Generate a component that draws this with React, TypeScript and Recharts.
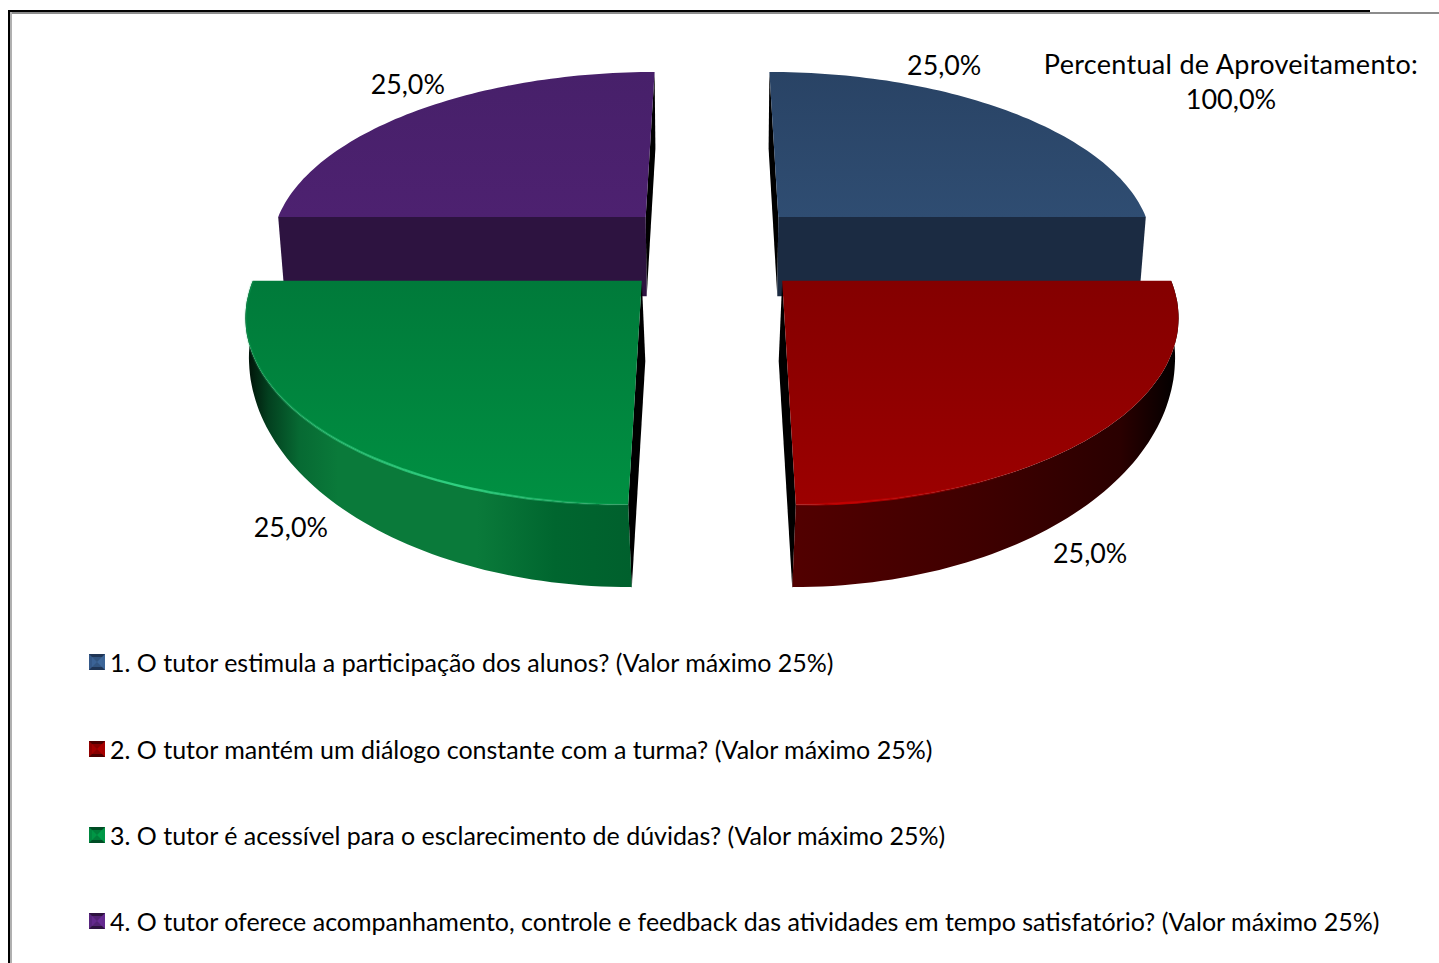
import React from 'react';
import { PieChart, Pie, Legend } from 'recharts';

const categories = [
  '1. O tutor estimula a participação dos alunos? (Valor máximo 25%)',
  '2. O tutor mantém um diálogo constante com a turma? (Valor máximo 25%)',
  '3. O tutor é acessível para o esclarecimento de dúvidas? (Valor máximo 25%)',
  '4. O tutor oferece acompanhamento, controle e feedback das atividades em tempo satisfatório? (Valor máximo 25%)',
];
const values = [25, 25, 25, 25];
const sliceLabels = ['25,0%', '25,0%', '25,0%', '25,0%'];
const summaryLines = ['Percentual de Aproveitamento:', '100,0%'];

const FONT = 'Lato, "Open Sans", sans-serif';
const W = 1439;
const H = 963;
const CX = 712;
const CY = 248;
const R = 378;

// perspective of the tilted disc
const EXPLODE = 0.255;
const TILT = 0.468;
const PERSP = 0.158;

// colours per slice
const themes = [
  {
    top0: '#294365',
    top1: '#2f4d72',
    cut: '#1b2b42',
    wall: [[0, '#1b2b42'], [1, '#1b2b42']],
    rim: null,
    icon: ['#3f6a9f', '#1f3555'],
  },
  {
    top0: '#840000',
    top1: '#9c0000',
    cut: '#3a0000',
    wall: [[0, '#520000'], [0.5, '#3e0000'], [0.85, '#2a0000'], [1, '#000000']],
    rim: { color: '#c00000', peak: 0.12, end: 0.6 },
    icon: ['#b00000', '#4c0000'],
  },
  {
    top0: '#007a3a',
    top1: '#009042',
    cut: '#004d25',
    wall: [[0, '#000d05'], [0.06, '#03401f'], [0.14, '#076a33'], [0.24, '#0a7a3a'], [0.6, '#0a7a3a'], [0.8, '#00662f'], [1, '#00602d']],
    rim: { color: '#2fd080', peak: 0.55, end: 1 },
    icon: ['#00a04a', '#004d25'],
  },
  {
    top0: '#47206a',
    top1: '#4d2170',
    cut: '#2d1340',
    wall: [[0, '#2d1340'], [1, '#2d1340']],
    rim: null,
    icon: ['#6a2d98', '#2d1340'],
  },
];

// nudge from the rim point of each slice to where its label sits
const labelShift = [
  [-62, -45],
  [-12, 122],
  [-31, 96],
  [-10, -26],
];

// drawn back to front, so the pie starts at the purple slice
const pieData = [3, 0, 1, 2].map((i) => ({
  name: categories[i],
  value: values[i],
  order: i,
  fill: themes[i].top1,
}));

const rad = (a: number) => (a * Math.PI) / 180;

function project(u: number, v: number) {
  const s = 1 / (1 + (PERSP * v) / R);
  return [CX + u * s, CY - TILT * v * s];
}

// bottom edge of a cut face
function lowerCut(p: number[], back: boolean) {
  const x = back ? CX + (p[0] - CX) * 0.985 : p[0] - Math.sign(p[0] - CX) * 3.5;
  return [x, p[1] * 1.017 + 75.5];
}

// bottom edge of the round wall on the front slices
function lowerRim(p: number[]) {
  return [p[0] - Math.sign(p[0] - CX) * 3.5, p[1] * 1.23 - 33.6];
}

const line = (pts: number[][]) => 'M' + pts.map((p) => p[0].toFixed(1) + ',' + p[1].toFixed(1)).join('L');
const toPath = (pts: number[][]) => line(pts) + 'Z';

function Slice3D(props: any) {
  const order = props.order ?? props.payload?.order ?? 0;
  const t = themes[order];
  const { startAngle, endAngle, outerRadius } = props;
  const mid = (startAngle + endAngle) / 2;
  const ox = EXPLODE * R * Math.cos(rad(mid));
  const oy = EXPLODE * R * Math.sin(rad(mid));
  const apex = project(ox, oy);
  const arc: number[][] = [];
  const steps = 72;
  for (let i = 0; i <= steps; i++) {
    const a = rad(startAngle + ((endAngle - startAngle) * i) / steps);
    arc.push(project(ox + outerRadius * Math.cos(a), oy + outerRadius * Math.sin(a)));
  }
  const first = arc[0];
  const last = arc[arc.length - 1];
  const back = oy > 0;
  const wall = [...arc, ...arc.map(lowerRim).reverse()];
  const sideH = Math.abs(Math.sin(rad(startAngle))) < 0.01 ? first : last;
  const sideV = sideH === first ? last : first;
  const id = 'slice' + order;
  return (
    <g>
      <defs>
        <linearGradient id={id + 'top'} x1="0" y1="0" x2="0" y2="1">
          <stop offset="0" stopColor={t.top0} />
          <stop offset="1" stopColor={t.top1} />
        </linearGradient>
        <linearGradient id={id + 'wall'} x1="0" y1="0" x2="1" y2="0">
          {t.wall.map((s: any) => (
            <stop key={s[0]} offset={s[0]} stopColor={s[1]} />
          ))}
        </linearGradient>
        {t.rim && (
          <linearGradient id={id + 'rim'} x1="0" y1="0" x2="1" y2="0">
            <stop offset="0" stopColor={t.rim.color} stopOpacity={0.15} />
            <stop offset={t.rim.peak} stopColor={t.rim.color} stopOpacity={1} />
            <stop offset={t.rim.end} stopColor={t.rim.color} stopOpacity={0} />
          </linearGradient>
        )}
      </defs>
      <path d={toPath([apex, sideV, lowerCut(sideV, back), lowerCut(apex, back)])} fill="#000" />
      {back && <path d={toPath([apex, sideH, lowerCut(sideH, back), lowerCut(apex, back)])} fill={t.cut} />}
      {!back && <path d={toPath(wall)} fill={`url(#${id}wall)`} />}
      <path d={toPath([apex, ...arc])} fill={`url(#${id}top)`} />
      {t.rim && <path d={line(arc)} fill="none" stroke={`url(#${id}rim)`} strokeWidth={2.5} />}
    </g>
  );
}

function SliceLabel(props: any) {
  const order = props.order ?? props.payload?.order ?? 0;
  const m = rad(props.midAngle);
  const ox = (EXPLODE * R + props.outerRadius) * Math.cos(m);
  const oy = (EXPLODE * R + props.outerRadius) * Math.sin(m);
  const p = project(ox, oy);
  return (
    <text
      x={p[0] + labelShift[order][0]}
      y={p[1] + labelShift[order][1]}
      textAnchor="middle"
      dominantBaseline="central"
      fontFamily={FONT}
      fontSize={26.8}
      fill="#000"
    >
      {sliceLabels[order]}
    </text>
  );
}

function BevelIcon({ colors }: { colors: string[] }) {
  return (
    <svg width={16} height={16} style={{ marginRight: 5, flex: 'none' }}>
      <rect x={0} y={0} width={16} height={16} fill={colors[1]} />
      <path d="M0,0L16,0L8,8Z" fill={colors[1]} opacity={0.6} />
      <path d="M0,0L0,16L8,8Z" fill={colors[0]} opacity={0.7} />
      <path d="M16,0L16,16L8,8Z" fill={colors[0]} opacity={0.9} />
      <rect x={3} y={3} width={10} height={10} fill={colors[0]} opacity={0.6} />
    </svg>
  );
}

function LegendRows() {
  return (
    <div style={{ position: 'absolute', left: 89, top: 619, width: 1340 }}>
      {categories.map((c, i) => (
        <div
          key={c}
          style={{
            display: 'flex',
            alignItems: 'center',
            height: 86.4,
            fontFamily: FONT,
            fontSize: 25,
            color: '#000',
            whiteSpace: 'nowrap',
          }}
        >
          <BevelIcon colors={themes[i].icon} />
          <span>{c}</span>
        </div>
      ))}
    </div>
  );
}

export default function App() {
  return (
    <div style={{ position: 'absolute', left: 0, top: 0, width: W, height: H, background: '#fff', overflow: 'hidden' }}>
      <div style={{ position: 'absolute', left: 8, top: 12, width: W - 8, height: 2, background: '#8c8c8c' }} />
      <div style={{ position: 'absolute', left: 10, top: 12, width: 2, height: H, background: '#b0b0b0' }} />
      <div style={{ position: 'absolute', left: 8, top: 10, width: 1362, height: 2, background: '#000' }} />
      <div style={{ position: 'absolute', left: 8, top: 10, width: 2, height: H, background: '#000' }} />
      <div style={{ position: 'absolute', left: 0, top: 0 }}>
        <PieChart width={W} height={H}>
          <Pie
            data={pieData}
            dataKey="value"
            nameKey="name"
            cx={CX}
            cy={CY}
            outerRadius={R}
            startAngle={180}
            endAngle={-180}
            stroke="none"
            shape={Slice3D}
            label={SliceLabel}
            labelLine={false}
            isAnimationActive={false}
          />
          <Legend content={() => <LegendRows />} wrapperStyle={{ left: 0, top: 0 }} />
        </PieChart>
      </div>
      <div
        style={{
          position: 'absolute',
          left: 1000,
          top: 46,
          width: 462,
          textAlign: 'center',
          fontFamily: FONT,
          fontSize: 27,
          lineHeight: '35px',
          color: '#000',
        }}
      >
        {summaryLines.map((l, i) => (
          <div key={l} style={{ letterSpacing: i === 0 ? 0.3 : 0 }}>
            {l}
          </div>
        ))}
      </div>
    </div>
  );
}
